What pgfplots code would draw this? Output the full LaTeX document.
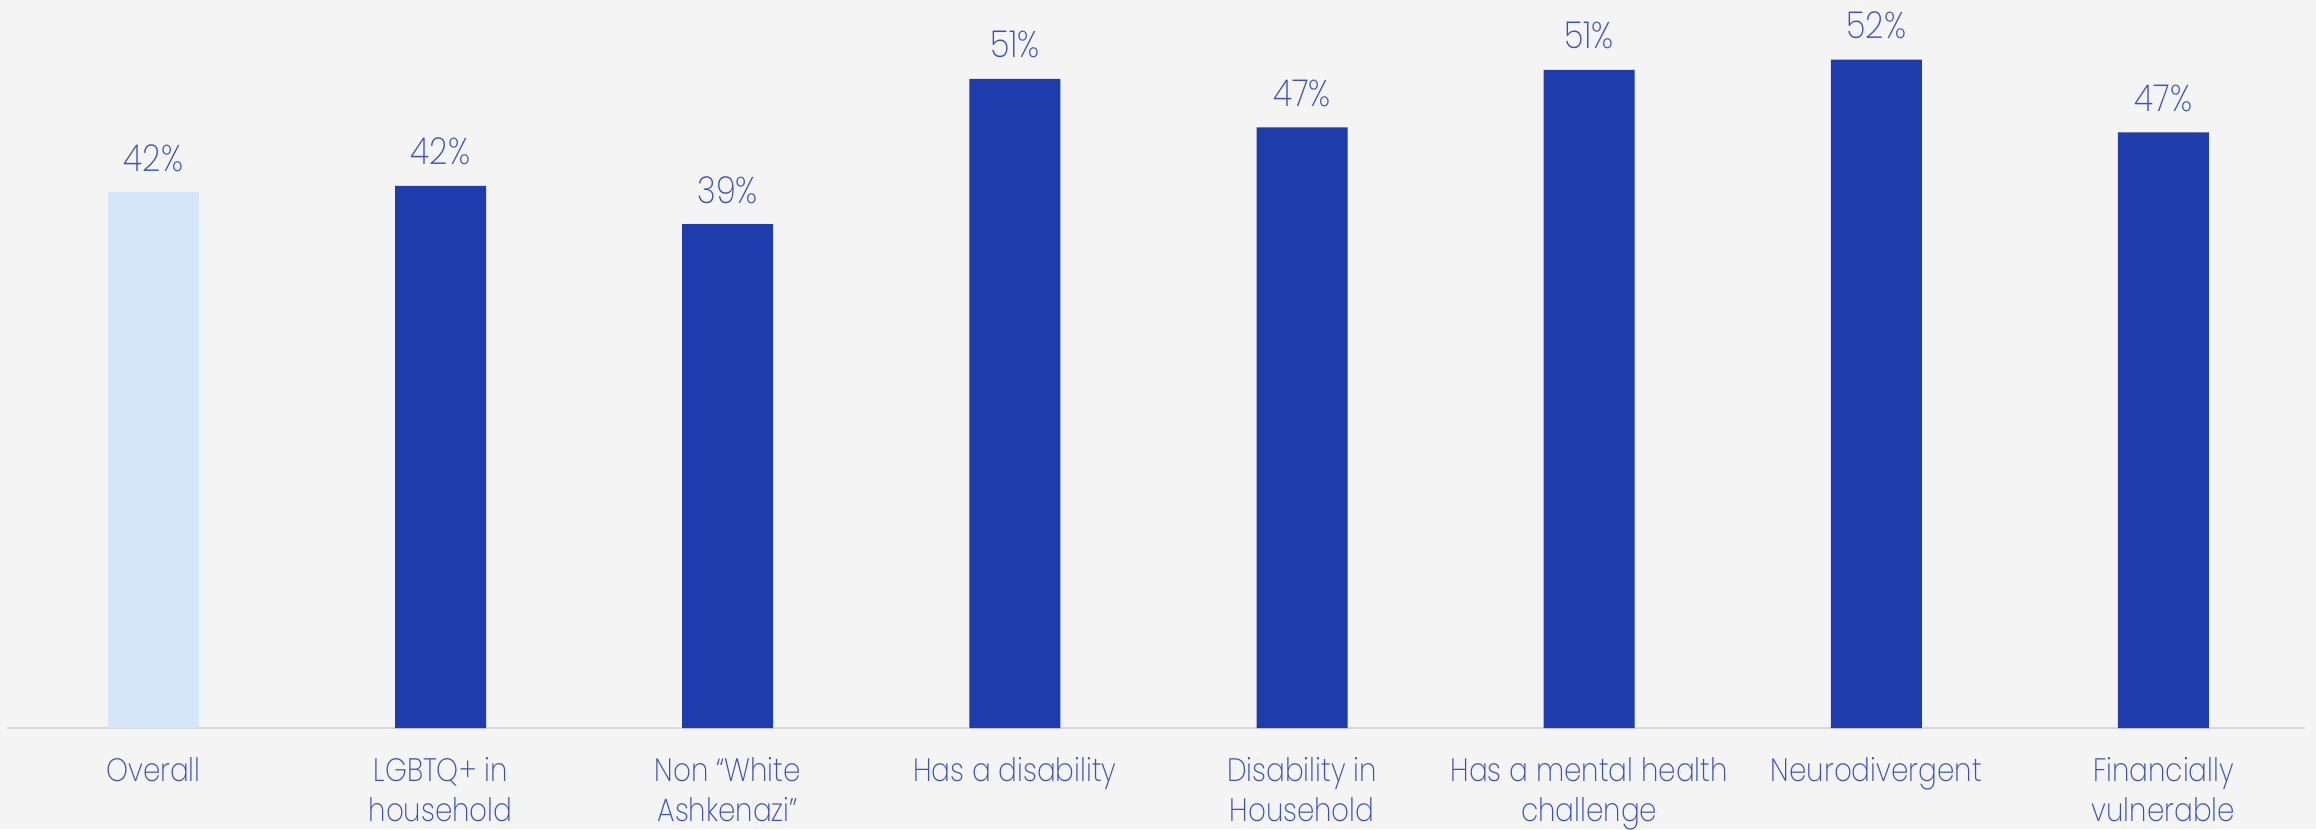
\documentclass[border=0pt]{standalone}
\usepackage{fontspec}
\setmainfont{Poppins}[UprightFont=* ExtraLight, FakeStretch=0.86]
\usepackage{pgfplots}
\pgfplotsset{compat=1.18}
\usetikzlibrary{backgrounds,calc}
\definecolor{bg}{HTML}{F4F4F4}
\definecolor{dark}{HTML}{1E3CAB}
\definecolor{light}{HTML}{D4E6FA}
\definecolor{txt}{HTML}{3A50BC}
\definecolor{axisgray}{HTML}{D8D8D8}
\begin{document}
\begin{tikzpicture}
\begin{axis}[
 scale only axis, width=574.5pt, height=181.8pt,
 xmin=-0.510, xmax=7.493, ymin=0, ymax=57,
 axis x line=bottom, axis y line=none,
 axis line style={axisgray, line width=0.5pt, -},
 xtick={0,...,7}, major tick length=0pt,
 xticklabels={Overall, {LGBTQ+ in\\household}, {Non “White\\Ashkenazi”}, {Has a disability}, {Disability in\\Household}, {Has a mental health\\challenge}, {Neurodivergent}, {Financially\\vulnerable}},
 xticklabel style={align=center, font=\fontsize{8.1}{10}\selectfont, text=txt, anchor=north, yshift=-3.8pt},
 ybar, bar width=22.75pt, bar shift=0pt,
 nodes near coords={\pgfplotspointmeta\%}, point meta=explicit symbolic,
 every node near coord/.append style={anchor=base, yshift=5.25pt, font=\fontsize{9.3}{11}\selectfont, text=txt, inner sep=0pt},
 clip=false,
]
\addplot[fill=light, draw=none] table[x=x, y=y, meta=lab] {
x y lab
0 42.0 42
};
\addplot[fill=dark, draw=none] table[x=x, y=y, meta=lab] {
x y lab
1 42.5 42
2 39.5 39
3 50.9 51
4 47.1 47
5 51.6 51
6 52.4 52
7 46.7 47
};
\coordinate (sw) at (rel axis cs:0,0);
\coordinate (ne) at (rel axis cs:1,1);
\end{axis}
\begin{scope}[on background layer]
\fill[bg] ($(sw)+(-1.75pt,-25.25pt)$) rectangle ($(ne)+(2.75pt,0.25pt)$);
\end{scope}
\pgfresetboundingbox
\path[use as bounding box] ($(sw)+(-1.75pt,-25.25pt)$) rectangle ($(ne)+(2.75pt,0.25pt)$);
\end{tikzpicture}
\end{document}
